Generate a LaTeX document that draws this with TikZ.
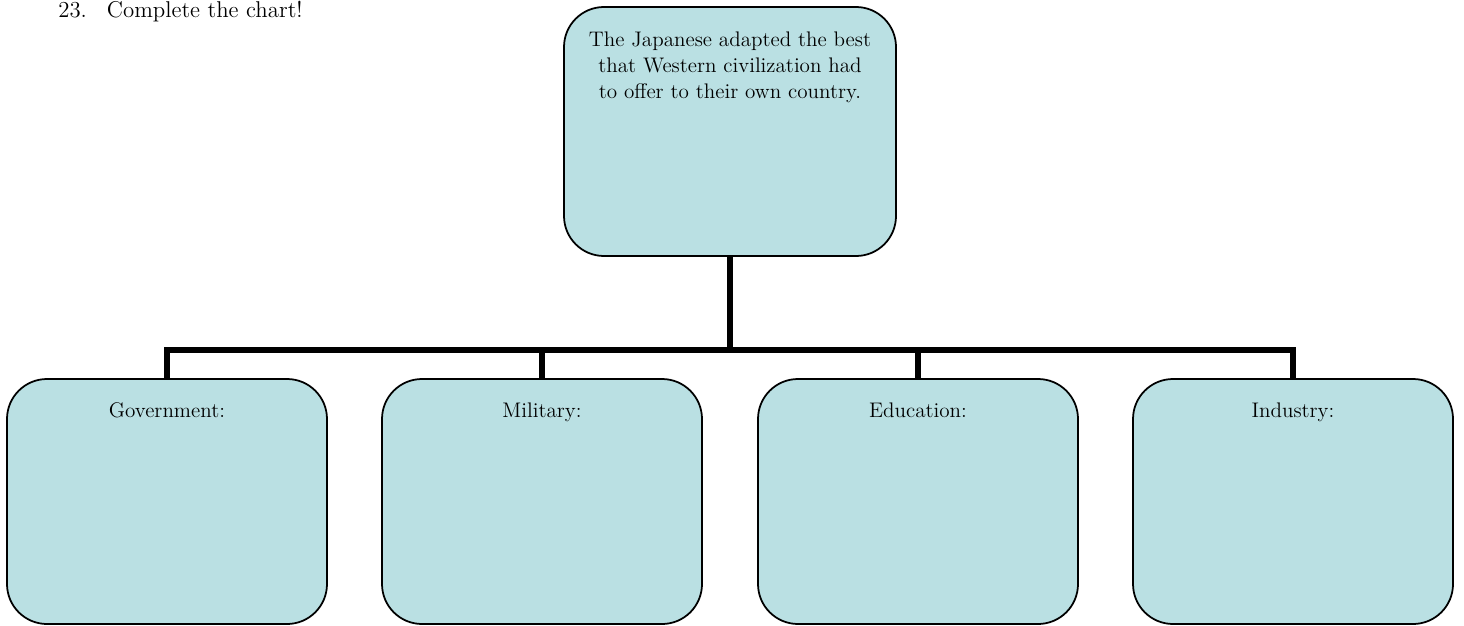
\documentclass[tikz,border=0pt]{standalone}
\usetikzlibrary{positioning}

\definecolor{ChartColor}{RGB}{186,224,227}
\tikzstyle{chart-box-base}=[rectangle,
                             draw=black,
                             line width=1pt,
                             rounded corners=0.8cm,
                             fill={ChartColor},
                            ]
\tikzstyle{topic}=[chart-box-base,
                                  minimum width=6.64cm,
                                  minimum height=4.98cm]
\tikzstyle{aspect}=[chart-box-base,
                                  minimum width=6.4cm,
                                  minimum height=4.9cm]
\tikzstyle{chart-text}=[inner sep=0pt, align=center,
                        font=\fontsize{12}{14.8}\selectfont]
\tikzstyle{connector}=[line width=3.4pt, line join=miter]

\begin{document}
\begin{tikzpicture}
\useasboundingbox (0cm, 0cm) rectangle (29.28cm, -12.5cm);

\node at (1.16cm, -0.36cm) (question) [anchor=base west, inner sep=0pt, font=\fontsize{13}{15}\selectfont] {23.\hspace{0.4cm}Complete the chart!};

\node at (14.6cm,  -2.63cm) (japan)      [topic]  {};
\node at (3.34cm,  -10.03cm) (government) [aspect] {};
\node at (10.84cm, -10.03cm) (military)   [aspect] {};
\node at (18.36cm, -10.03cm) (education)  [aspect] {};
\node at (25.86cm, -10.03cm) (industry)   [aspect] {};

\node (japan_text)      [chart-text, below=0.5cm of japan.north]
  {The Japanese adapted the best\\that Western civilization had\\to offer to their own country.};
\node (government_text) [chart-text, below=0.48cm of government.north] {Government:};
\node (military_text)   [chart-text, below=0.48cm of military.north]   {Military:};
\node (education_text)  [chart-text, below=0.48cm of education.north]  {Education:};
\node (industry_text)   [chart-text, below=0.48cm of industry.north]   {Industry:};

\coordinate (junction) at (14.6cm, -7.0cm);

\draw[connector] (japan.south) -- (junction);
\draw[connector] (junction) -| (government.north);
\draw[connector] (junction) -| (military.north);
\draw[connector] (junction) -| (education.north);
\draw[connector] (junction) -| (industry.north);
\end{tikzpicture}
\end{document}
